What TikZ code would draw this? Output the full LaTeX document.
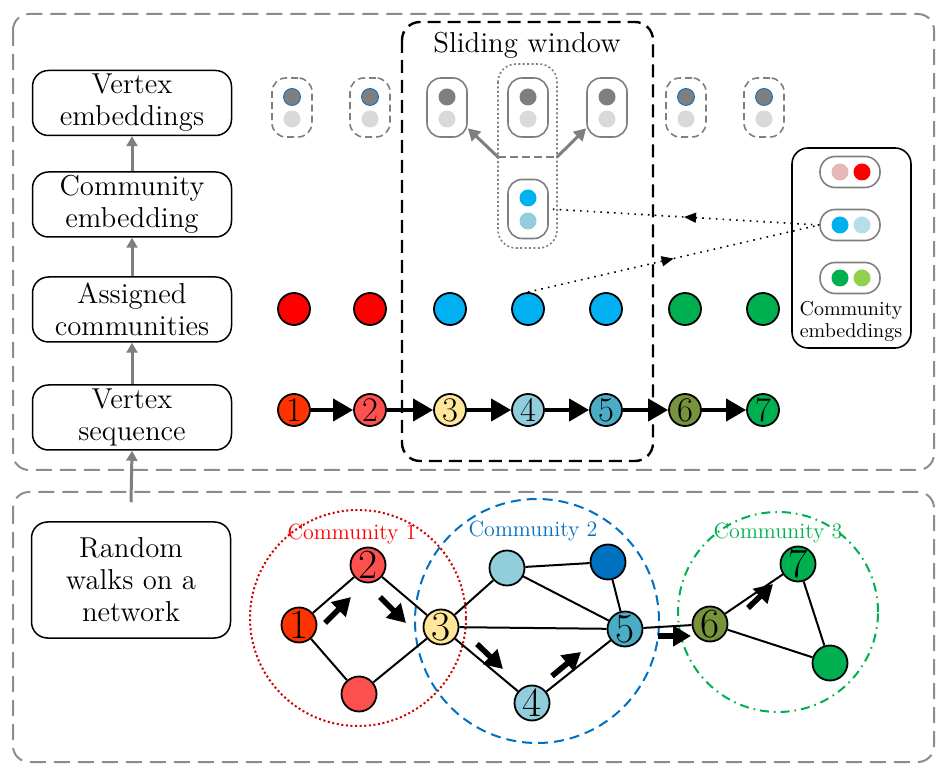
\documentclass[tikz,border=0pt]{standalone}
\usepackage{tikz}
\usetikzlibrary{arrows.meta,positioning,calc,decorations.markings}

\definecolor{vA}{HTML}{FF3300}
\definecolor{vB}{HTML}{FF5050}
\definecolor{vC}{HTML}{FFE699}
\definecolor{vD}{HTML}{92CDDC}
\definecolor{vE}{HTML}{4BACC6}
\definecolor{vF}{HTML}{77933C}
\definecolor{vG}{HTML}{00B050}
\definecolor{comRed}{HTML}{FF0000}
\definecolor{comBlue}{HTML}{00B0F0}
\definecolor{comGreen}{HTML}{00B050}
\definecolor{deepBlue}{HTML}{0070C0}
\definecolor{paleRed}{HTML}{E6B8B7}
\definecolor{paleBlue}{HTML}{B7DEE8}
\definecolor{paleGreen}{HTML}{92D050}
\definecolor{embDark}{HTML}{7F7F7F}
\definecolor{embLight}{HTML}{D9D9D9}

\tikzset{
  frame/.style={draw=gray!90, line width=1pt, dash pattern=on 8pt off 4pt, rounded corners=8pt},
  window/.style={draw=black, line width=1.2pt, dash pattern=on 6.5pt off 3.5pt, rounded corners=9pt},
  stage/.style={draw, line width=0.75pt, rounded corners=8pt, minimum width=99.5pt, minimum height=32.5pt,
    inner sep=1pt, align=center, font=\fontsize{14.4}{16}\selectfont},
  upstep/.style={draw=embDark, line width=1.5pt, -{Triangle[length=5pt,width=5.5pt]}},
  seqvtx/.style={circle, draw, line width=0.9pt, minimum size=16pt, inner sep=0pt, font=\LARGE},
  netvtx/.style={circle, draw, line width=0.9pt, minimum size=17.5pt, inner sep=0pt, font=\huge},
  comdot/.style={circle, draw, line width=0.9pt, minimum size=16pt, inner sep=0pt},
  seqarrow/.style={line width=2pt, -{Triangle[length=10pt,width=11pt]}},
  walkarrow/.style={line width=2.8pt, -{Triangle[length=9pt,width=10pt]}},
  edge/.style={line width=1pt},
  vpill/.style={draw=embDark, line width=0.8pt, rounded corners=7pt, minimum width=20pt, minimum height=29.5pt, inner sep=0pt},
  dpill/.style={vpill, dash pattern=on 3.5pt off 2pt},
  hpill/.style={draw=embDark, line width=0.8pt, rounded corners=7.5pt, minimum width=30pt, minimum height=15.5pt, inner sep=0pt},
  emb/.style={circle, minimum size=8.5pt, inner sep=0pt},
  midarrow/.style={line width=0.8pt, dash pattern=on 0.8pt off 2.6pt,
    decoration={markings, mark=at position 0.5 with {\arrow{Triangle[length=6pt,width=5pt]}}}, postaction={decorate}},
}

\begin{document}
\begin{tikzpicture}[x=0.5pt,y=-0.5pt]
%%%%% START %%%%%
\useasboundingbox (0,0) rectangle (947,774);

% the two frames
\draw[frame] (13,14) rectangle (934,470);
\draw[frame] (13,492) rectangle (934,762);

% sliding window
\draw[window] (402,22) rectangle (653,461);
\node[font=\Large] (swlabel) at (527,45) {Sliding window};

% stages
\node[stage] (vemb) at (132,103) {Vertex\\embeddings};
\node[stage] (cemb) at (132,204.5) {Community\\embedding};
\node[stage] (acom) at (132,309.5) {Assigned\\communities};
\node[stage] (vseq) at (132,417.5) {Vertex\\sequence};
\node[stage, minimum height=58pt] (rwalk) at (131,580) {Random\\walks on a\\network};

\draw[upstep] ([yshift=9.5pt]rwalk.north) -- (vseq.south);
\draw[upstep] (vseq.north) -- (acom.south);
\draw[upstep] (acom.north) -- (cemb.south);
\draw[upstep] (cemb.north) -- (vemb.south);

% vertex embeddings
\node[dpill] (p1) at (292,107.5) {};
\node[emb, fill=embDark, draw=deepBlue, line width=0.4pt] (p1a) at (292,97) {};
\node[emb, fill=embLight] (p1b) at (292,119) {};
\node[dpill] (p2) at (370,107.5) {};
\node[emb, fill=embDark, draw=deepBlue, line width=0.4pt] (p2a) at (370,97) {};
\node[emb, fill=embLight] (p2b) at (370,119) {};
\node[vpill] (p3) at (447,107.5) {};
\node[emb, fill=embDark] (p3a) at (447,97) {};
\node[emb, fill=embLight] (p3b) at (447,119) {};
\node[vpill] (p4) at (528,107.5) {};
\node[emb, fill=embDark] (p4a) at (528,97) {};
\node[emb, fill=embLight] (p4b) at (528,119) {};
\node[vpill] (p5) at (607,107.5) {};
\node[emb, fill=embDark] (p5a) at (607,97) {};
\node[emb, fill=embLight] (p5b) at (607,119) {};
\node[dpill] (p6) at (686,107.5) {};
\node[emb, fill=embDark, draw=deepBlue, line width=0.4pt] (p6a) at (686,97) {};
\node[emb, fill=embLight] (p6b) at (686,119) {};
\node[dpill] (p7) at (764,107.5) {};
\node[emb, fill=embDark, draw=deepBlue, line width=0.4pt] (p7a) at (764,97) {};
\node[emb, fill=embLight] (p7b) at (764,119) {};

% centre of the window
\draw[draw=embDark, line width=0.8pt, dash pattern=on 1pt off 1.2pt, rounded corners=9pt] (498,64) rectangle (557,248);
\coordinate (wl) at (498,157);
\coordinate (wr) at (557,157);
\draw[draw=embDark, line width=0.8pt, dash pattern=on 4pt off 2pt] (wl) -- (wr);
\draw[draw=embDark, line width=1.5pt, -{Triangle[length=6pt,width=6.5pt]}] (wl) -- (p3.-45);
\draw[draw=embDark, line width=1.5pt, -{Triangle[length=6pt,width=6.5pt]}] (wr) -- (p5.-135);

\node[vpill] (cw) at (528,209) {};
\node[emb, fill=comBlue] (cwa) at (528,198) {};
\node[emb, fill=vD] (cwb) at (528,221) {};

% community embeddings
\node[draw, line width=0.8pt, rounded corners=8pt, minimum width=59.5pt, minimum height=100pt] (cbox) at (851.5,248) {};
\node[hpill] (h1) at (850,172) {};
\node[emb, fill=paleRed] (h1a) at (840,172) {};
\node[emb, fill=comRed] (h1b) at (862,172) {};
\node[hpill] (h2) at (850,225) {};
\node[emb, fill=comBlue] (h2a) at (840,225) {};
\node[emb, fill=paleBlue] (h2b) at (862,225) {};
\node[hpill] (h3) at (850,278) {};
\node[emb, fill=comGreen] (h3a) at (840,278) {};
\node[emb, fill=paleGreen] (h3b) at (862,278) {};
\node[align=center, font=\fontsize{10}{11}\selectfont] (cboxlabel) at (851,322) {Community\\embeddings};

% assigned communities
\node[comdot, fill=comRed] (a1) at (294,309) {};
\node[comdot, fill=comRed] (a2) at (370,309) {};
\node[comdot, fill=comBlue] (a3) at (450,309) {};
\node[comdot, fill=comBlue] (a4) at (528,309) {};
\node[comdot, fill=comBlue] (a5) at (606,309) {};
\node[comdot, fill=comGreen] (a6) at (685,309) {};
\node[comdot, fill=comGreen] (a7) at (763,309) {};

\draw[midarrow] (h2.west) -- (cw.east);
\draw[midarrow] (a4.north) -- (h2.west);

% vertex sequence
\node[seqvtx, fill=vA] (s1) at (294,410) {1};
\node[seqvtx, fill=vB] (s2) at (370,410) {2};
\node[seqvtx, fill=vC] (s3) at (450,410) {3};
\node[seqvtx, fill=vD] (s4) at (528,410) {4};
\node[seqvtx, fill=vE] (s5) at (606,410) {5};
\node[seqvtx, fill=vF] (s6) at (685,410) {6};
\node[seqvtx, fill=vG] (s7) at (763,410) {7};
\draw[seqarrow] (s1) -- (s2);
\draw[seqarrow] (s2) -- (s3);
\draw[seqarrow] (s3) -- (s4);
\draw[seqarrow] (s4) -- (s5);
\draw[seqarrow] (s5) -- (s6);
\draw[seqarrow] (s6) -- (s7);

% network
\draw[draw=comRed!80!black, line width=1pt, dash pattern=on 1pt off 1.3pt] (358,618) circle (54pt);
\draw[draw=deepBlue, line width=1pt, dash pattern=on 5pt off 3pt] (537,621) circle (61pt);
\draw[draw=comGreen, line width=1pt, dash pattern=on 4.5pt off 2.5pt on 0.8pt off 2.5pt] (778,612) circle (50pt);
\node[text=comRed, font=\fontsize{11}{13}\selectfont] (c1label) at (352,534) {Community 1};
\node[text=deepBlue, font=\fontsize{11}{13}\selectfont] (c2label) at (533,531) {Community 2};
\node[text=comGreen, font=\fontsize{11}{13}\selectfont] (c3label) at (778,533) {Community 3};

\node[netvtx, fill=vA] (n1) at (299,625) {1};
\node[netvtx, fill=vB] (n2) at (368,565) {2};
\node[netvtx, fill=vC] (n3) at (441,627) {3};
\node[netvtx, fill=vB] (n8) at (359,694) {};
\node[netvtx, fill=vD] (n9) at (507,568) {};
\node[netvtx, fill=deepBlue] (n10) at (608,562) {};
\node[netvtx, fill=vE] (n5) at (625,629) {5};
\node[netvtx, fill=vD] (n4) at (532,703) {4};
\node[netvtx, fill=vF] (n6) at (710,624) {6};
\node[netvtx, fill=vG] (n7) at (798,564) {7};
\node[netvtx, fill=vG] (n11) at (830,663) {};

\draw[edge] (n1) -- (n2);
\draw[edge] (n1) -- (n8);
\draw[edge] (n2) -- (n3);
\draw[edge] (n8) -- (n3);
\draw[edge] (n3) -- (n9);
\draw[edge] (n3) -- (n5);
\draw[edge] (n3) -- (n4);
\draw[edge] (n4) -- (n5);
\draw[edge] (n9) -- (n10);
\draw[edge] (n9) -- (n5);
\draw[edge] (n10) -- (n5);
\draw[edge] (n5) -- (n6);
\draw[edge] (n6) -- (n7);
\draw[edge] (n6) -- (n11);
\draw[edge] (n7) -- (n11);

% walk direction
\coordinate (w1a) at (325,623); \coordinate (w1b) at (351,597);
\coordinate (w2a) at (380,597); \coordinate (w2b) at (406,623);
\coordinate (w3a) at (477,644); \coordinate (w3b) at (503,669);
\coordinate (w4a) at (552,676); \coordinate (w4b) at (581,652);
\coordinate (w5a) at (658,636); \coordinate (w5b) at (691,636);
\coordinate (w6a) at (748,608); \coordinate (w6b) at (773,584);
\draw[walkarrow] (w1a) -- (w1b);
\draw[walkarrow] (w2a) -- (w2b);
\draw[walkarrow] (w3a) -- (w3b);
\draw[walkarrow] (w4a) -- (w4b);
\draw[walkarrow] (w5a) -- (w5b);
\draw[walkarrow] (w6a) -- (w6b);

%%%%% END %%%%%
\end{tikzpicture}
\end{document}
